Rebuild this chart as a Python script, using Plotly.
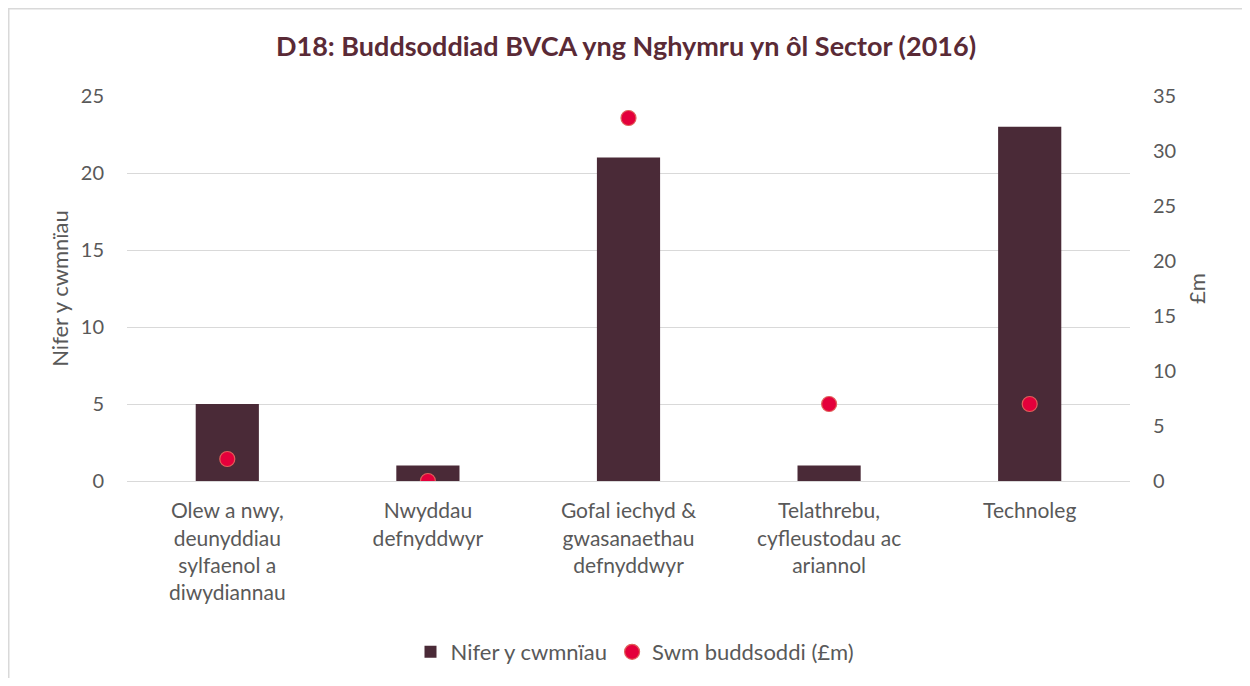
import plotly.graph_objects as go

categories = [
    "Olew a nwy,<br>deunyddiau<br>sylfaenol a<br>diwydiannau",
    "Nwyddau<br>defnyddwyr",
    "Gofal iechyd &<br>gwasanaethau<br>defnyddwyr",
    "Telathrebu,<br>cyfleustodau ac<br>ariannol",
    "Technoleg",
]
companies = [5, 1, 21, 1, 23]
investment = [2, 0, 33, 7, 7]

FONT = "Lato, 'Open Sans', sans-serif"
GREY = "#595959"
GRID = "#d9d9d9"

OFF = 8  # page body margin
W, H = 1250 - 2 * OFF, 686 - 2 * OFF
L, R, T, B = 127 - OFF, 1130 - OFF, 96 - OFF, 481 - OFF

fig = go.Figure()
fig.add_trace(go.Bar(
    x=categories, y=companies, name="Nifer y cwmnïau",
    marker=dict(color="#4a2a37", line=dict(width=0)),
    width=0.315, yaxis="y",
))
fig.add_trace(go.Scatter(
    x=categories, y=investment, name="Swm buddsoddi (£m)", mode="markers",
    marker=dict(color="#e4003b", size=15, line=dict(color="#e0605a", width=1.2)),
    yaxis="y2",
))

fig.update_layout(
    width=W, height=H,
    margin=dict(l=L, r=W - R, t=T, b=H - B, autoexpand=False),
    paper_bgcolor="white", plot_bgcolor="white",
    font=dict(family=FONT, size=20, color=GREY),
    title=dict(text="<b>D18: Buddsoddiad BVCA yng Nghymru yn ôl Sector (2016)</b>",
               x=(626 - OFF - L) / (R - L), xref="paper", xanchor="center",
               y=1 - (47 - OFF) / H, yanchor="middle",
               font=dict(family=FONT, size=27, color="#5a2a36")),
    xaxis=dict(showgrid=False, showline=True, linecolor=GRID, linewidth=1,
               ticks="", tickfont=dict(size=21, color=GREY), ticklabelstandoff=11,
               tickangle=0),
    yaxis=dict(range=[0, 25], tickvals=[0, 5, 10, 15, 20, 25], showgrid=True,
               gridcolor=GRID, gridwidth=1, zeroline=False, showline=False,
               ticks="", ticklabelstandoff=22, tickfont=dict(size=20, color=GREY),
               title=dict(text="Nifer y cwmnïau", font=dict(size=22, color=GREY), standoff=6)),
    yaxis2=dict(range=[0, 35], tickvals=[0, 5, 10, 15, 20, 25, 30, 35], overlaying="y",
                side="right", showgrid=False, zeroline=False, showline=False,
                ticks="", ticklabelstandoff=22, tickfont=dict(size=20, color=GREY),
                title=dict(text="£m", font=dict(size=22, color=GREY), standoff=14)),
    legend=dict(orientation="h", x=(635 - OFF - L) / (R - L), xanchor="center",
                y=(B - (652 - OFF)) / (B - T),
                yanchor="middle", font=dict(size=22, color=GREY),
                itemwidth=30, traceorder="normal"),
    shapes=[dict(type="rect", xref="paper", yref="paper",
                 x0=(0.75 - L) / (R - L), x1=(W + 10 - L) / (R - L),
                 y0=(B - (H + 10)) / (B - T), y1=(B - 0.75) / (B - T),
                 line=dict(color=GRID, width=1.5), fillcolor="rgba(0,0,0,0)", layer="below")],
)

fig.write_html("out.html")
